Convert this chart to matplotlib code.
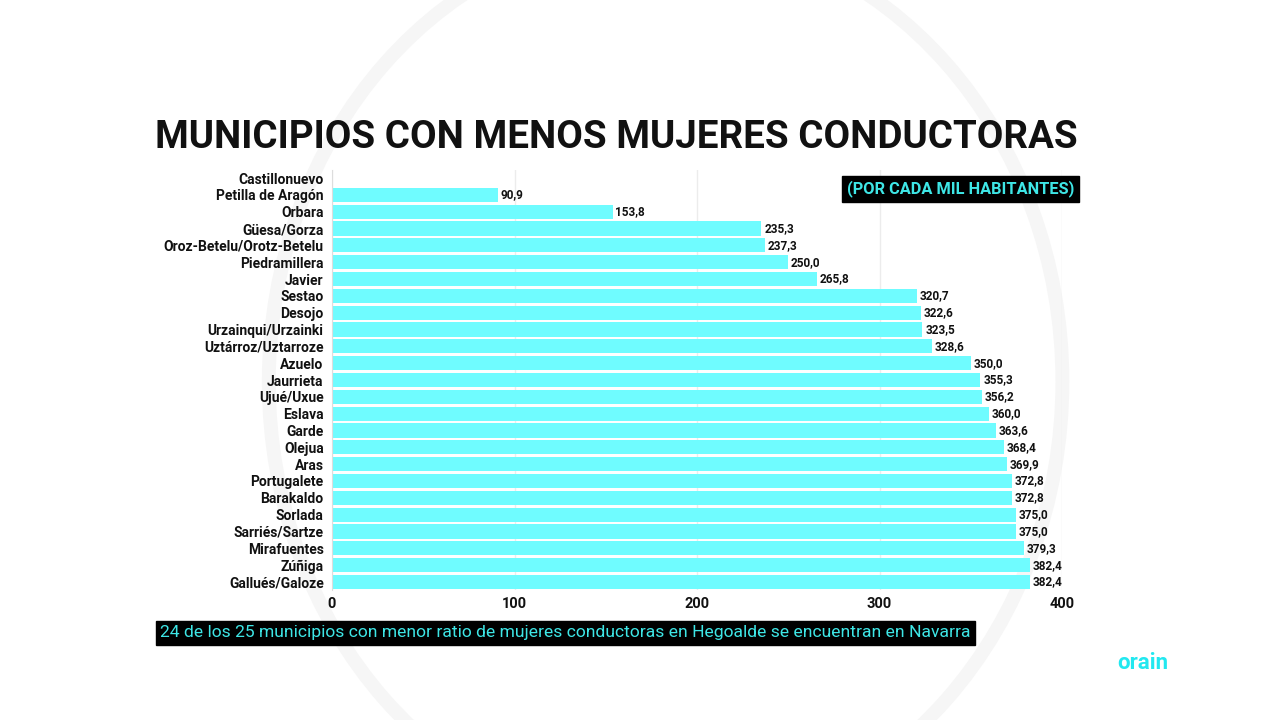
import matplotlib
matplotlib.use("Agg")
import matplotlib.pyplot as plt
from matplotlib.patches import Ellipse
from matplotlib import font_manager

municipios = ["Castillonuevo", "Petilla de Aragón", "Orbara", "Güesa/Gorza",
              "Oroz-Betelu/Orotz-Betelu", "Piedramillera", "Javier", "Sestao",
              "Desojo", "Urzainqui/Urzainki", "Uztárroz/Uztarroze", "Azuelo",
              "Jaurrieta", "Ujué/Uxue", "Eslava", "Garde", "Olejua", "Aras",
              "Portugalete", "Barakaldo", "Sorlada", "Sarriés/Sartze",
              "Mirafuentes", "Zúñiga", "Gallués/Galoze"]
valores = [0, 90.9, 153.8, 235.3, 237.3, 250.0, 265.8, 320.7, 322.6, 323.5,
           328.6, 350.0, 355.3, 356.2, 360.0, 363.6, 368.4, 369.9, 372.8,
           372.8, 375.0, 375.0, 379.3, 382.4, 382.4]
xticks = [0, 100, 200, 300, 400]

BAR = "#6ffcff"
CYAN = "#3ee6e6"

names = {f.name for f in font_manager.fontManager.ttflist}
def pick(cands):
    for c in cands:
        if c in names:
            return c
    return "DejaVu Sans"

BASE = pick(["Roboto", "Inter", "Noto Sans"])
plt.rcParams["font.family"] = [BASE, "DejaVu Sans"]

fig = plt.figure(figsize=(12.8, 7.2), dpi=100)
fig.patch.set_facecolor("white")

# faint decorative arcs
for (cx, cy, w, h, lw) in [(0.52, 0.47, 0.62, 1.25, 10), (0.5, 0.5, 1.35, 2.0, 18)]:
    e = Ellipse((cx, cy), w, h, transform=fig.transFigure, fill=False,
                edgecolor="#f6f6f6", lw=lw, zorder=0)
    fig.add_artist(e)

ax = fig.add_axes([332/1280, 1-590.4/720, 730/1280, 420.8/720])
ax.patch.set_alpha(0)
y = list(range(len(municipios)))
ax.barh(y, valores, height=0.84, color=BAR, zorder=2)
ax.set_ylim(len(municipios)-0.5, -0.5)
ax.set_xlim(0, 400)
ax.set_yticks(y)
ax.set_yticklabels(municipios, fontsize=10, fontweight="bold", color="#111111")
ax.set_xticks(xticks)
ax.set_xticklabels([str(t) for t in xticks], fontsize=10.5, fontweight="bold", color="#111111")
ax.tick_params(axis="y", length=0, pad=6)
ax.tick_params(axis="x", length=0, pad=5)
for s in ["top", "right", "bottom"]:
    ax.spines[s].set_visible(False)
ax.spines["left"].set_color("#dddddd")
ax.grid(axis="x", color="#ececec", lw=1, zorder=0)
ax.set_axisbelow(True)

for yi, v in zip(y, valores):
    if v > 0:
        ax.text(v + 1.5, yi, f"{v:.1f}".replace(".", ","), va="center", ha="left",
                fontsize=8.5, fontweight="bold", color="#111111")

title = fig.text(155/1280, 1-138/720, "MUNICIPIOS CON MENOS MUJERES CONDUCTORAS",
                 fontsize=28, fontweight="bold", color="#111111", va="center", ha="left")
foot = fig.text(160/1280, 1-633/720,
                "24 de los 25 municipios con menor ratio de mujeres conductoras en Hegoalde se encuentran en Navarra",
                fontsize=12, color=CYAN, va="center", ha="left",
                bbox=dict(boxstyle="square,pad=0.25", fc="black", ec="black"))
fig.canvas.draw()
r = fig.canvas.get_renderer()
title.set_fontsize(28 * 922 / title.get_window_extent(r).width)
foot.set_fontsize(12 * 808 / foot.get_window_extent(r).width)

fig.text(1074/1280, 1-189/720, "(POR CADA MIL HABITANTES)", fontsize=11.8,
         fontweight="bold", color=CYAN, va="center", ha="right",
         bbox=dict(boxstyle="square,pad=0.3", fc="black", ec="black"))

fig.text(1143/1280, 1-663/720, "orain", fontsize=16, fontweight="bold",
         color="#22e8f0", va="center", ha="center")

fig.savefig("out.png", dpi=100, facecolor="white")
